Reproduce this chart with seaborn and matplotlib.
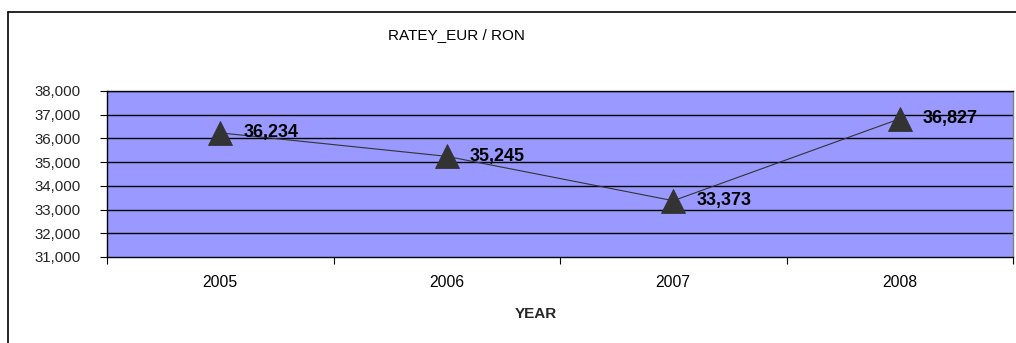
import matplotlib
matplotlib.use("Agg")
import matplotlib.pyplot as plt
import seaborn as sns
import pandas as pd
from matplotlib.lines import Line2D

years = ["2005", "2006", "2007", "2008"]
rates = [36.234, 35.245, 33.373, 36.827]  # shown as 36,234 etc. (comma decimal)
rate_labels = ["36,234", "35,245", "33,373", "36,827"]
y_ticks = [31, 32, 33, 34, 35, 36, 37, 38]
y_tick_labels = ["31,000", "32,000", "33,000", "34,000", "35,000", "36,000", "37,000", "38,000"]
title = "RATEY_EUR / RON"
x_title = "YEAR"

df = pd.DataFrame({"year": years, "rate": rates})

sns.set_theme(style="white")
plt.rcParams["font.family"] = ["Liberation Sans", "DejaVu Sans"]

fig = plt.figure(figsize=(10.16, 3.43), dpi=100)
fig.patch.set_facecolor("white")
ax = fig.add_axes([107/1016, 1-257/343, (1013-107)/1016, (257-91)/343])
ax.set_facecolor("#9999FF")

sns.pointplot(data=df, x="year", y="rate", ax=ax, color="#333333",
              markers="^", linestyles="-", markersize=17, linewidth=0.8,
              errorbar=None)
for line in ax.lines:
    line.set_markeredgecolor("#333333")

ax.set_xlim(-0.5, 3.5)
ax.set_ylim(31, 38)
ax.set_yticks(y_ticks, y_tick_labels)
for v in y_ticks[1:]:
    ax.axhline(v, color="black", lw=1.0, zorder=0.5)

ax.set_xticks(range(len(years)), years)
ax.set_xticks([-0.5, 0.5, 1.5, 2.5, 3.5], minor=True)
ax.tick_params(axis="x", which="major", length=0, pad=13, labelsize=11.3, colors="black")
ax.tick_params(axis="x", which="minor", length=5, width=0.8, color="black", direction="out", bottom=True)
ax.tick_params(axis="y", length=5, width=0.8, color="black", direction="out", left=True, pad=14, labelsize=10.8)
ax.set_xlabel(x_title, fontsize=11, fontweight="bold")
ax.xaxis.set_label_coords((536-107)/906, -(314-257)/166, transform=ax.transAxes)
ax.xaxis.label.set_va("center")
ax.set_ylabel("")

for s in ["left", "bottom", "top"]:
    ax.spines[s].set_color("black")
    ax.spines[s].set_linewidth(1.0)
ax.spines["right"].set_color("#808080")
ax.spines["right"].set_linewidth(1.0)

for i, (v, lab) in enumerate(zip(rates, rate_labels)):
    ax.annotate(lab, (i, v), xytext=(23, 0), textcoords="offset pixels",
                ha="left", va="center", fontsize=13, fontweight="bold", color="black")

fig.text(456/1016, 1-35/343, title, ha="center", va="center", fontsize=11, color="black")

# outer chart frame
fig.add_artist(Line2D([8/1016, 8/1016], [0, 1-12/343], color="black", lw=1.2, transform=fig.transFigure))
fig.add_artist(Line2D([8/1016, 1], [1-12/343, 1-12/343], color="black", lw=1.2, transform=fig.transFigure))

fig.savefig("out.png", dpi=100)
